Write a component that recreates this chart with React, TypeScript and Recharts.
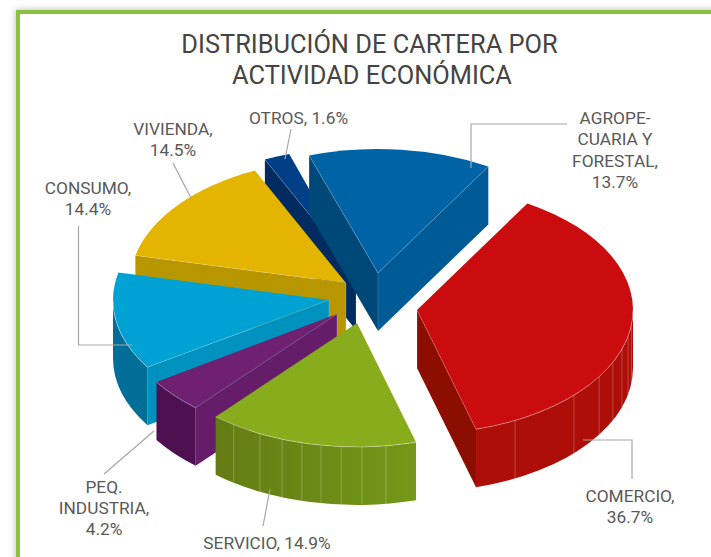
import React from "react";
import { PieChart, Pie } from "recharts";

const categories = ["AGROPECUARIA Y FORESTAL", "COMERCIO", "SERVICIO", "PEQ. INDUSTRIA", "CONSUMO", "VIVIENDA", "OTROS"];
const shares = [13.7, 36.7, 14.9, 4.2, 14.4, 14.5, 1.6];
const labelLines = [
  ["AGROPE-", "CUARIA Y", "FORESTAL,"],
  ["COMERCIO,"],
  ["SERVICIO,"],
  ["PEQ.", "INDUSTRIA,"],
  ["CONSUMO,"],
  ["VIVIENDA,"],
  ["OTROS,"],
];
const titleLines = ["DISTRIBUCIÓN DE CARTERA POR", "ACTIVIDAD ECONÓMICA"];

const data = categories.map((name, i) => ({ name, value: shares[i] }));

// Back-to-front paint order of the exploded slices.
const paintOrder = [6, 0, 5, 4, 3, 2, 1];

const CX = 360;
const CY = 300;
const RX = 216;
const RY = 124;
const DEPTH = 58;

type SliceStyle = {
  pull: [number, number];
  warp: [number, number]; // small perspective correction of the two cut angles
  top: string;
  startWall: string;
  endWall: string;
  outer: string;
  facets?: number[];
  gradient?: [string, string];
};

const sliceStyles: SliceStyle[] = [
  { pull: [18, -27], warp: [-0.6, -0.6], top: "#0063A6", startWall: "#004877", endWall: "#005A96", outer: "#005A96" },
  { pull: [57, 10], warp: [-0.6, 0.7], top: "#CB0C0F", startWall: "#8B0E00", endWall: "#8B0E00", outer: "#AD0E08", facets: [153, 133.4, 122.5, 114.9, 108.4, 102.3, 97] },
  { pull: [-3, 23], warp: [0.7, 3.8], top: "#88AD1C", startWall: "#6A8615", endWall: "#6A8615", outer: "#6A8615", gradient: ["#637C14", "#749818"], facets: [214.8, 206.7, 200.3, 194.8, 189.6, 184.2, 178.7, 172.3] },
  { pull: [-23, 14], warp: [3.8, 4.5], top: "#702070", startWall: "#651D6A", endWall: "#651D6A", outer: "#4F1052" },
  { pull: [-31, 0], warp: [5, -1.2], top: "#00A2D4", startWall: "#0092BE", endWall: "#0092BE", outer: "#006E96" },
  { pull: [-14, -17], warp: [-1.2, -1.2], top: "#E3B500", startWall: "#B89600", endWall: "#B89600", outer: "#B89600" },
  { pull: [-4, -28], warp: [-1.2, 0], top: "#003F86", startWall: "#022B60", endWall: "#022B60", outer: "#022B60" },
];

const labelLayout: { x: number; ys: number[]; inline?: boolean }[] = [
  { x: 615, ys: [124, 145, 167, 188] },
  { x: 630, ys: [502, 523] },
  { x: 267, ys: [549], inline: true },
  { x: 104, ys: [493, 514, 535] },
  { x: 88, ys: [194, 215] },
  { x: 173, ys: [135, 156] },
  { x: 298.5, ys: [124], inline: true },
];

const leaders = [
  "M567 124H471V168",
  "M583 440H632V479",
  "M270 489L263 526",
  "M154 431L104 474",
  "M78.5 226V345H132",
  "M173 163L192 200",
  "M291 129L285 159",
];

const rim = "rgba(255,255,255,0.45)";

function sliceShape(target: number) {
  return (props: any) => {
    if (props.name !== categories[target]) return <g />;
    const st = sliceStyles[target];
    const tx = props.cx + st.pull[0];
    const ty = props.cy + st.pull[1];
    const a0 = 90 - props.startAngle + st.warp[0];
    const a1 = 90 - props.endAngle + st.warp[1];
    const pt = (deg: number): [number, number] => {
      const t = (deg * Math.PI) / 180;
      return [tx + RX * Math.sin(t), ty - RY * Math.cos(t)];
    };
    const [sx, sy] = pt(a0);
    const [ex, ey] = pt(a1);
    const large = a1 - a0 > 180 ? 1 : 0;
    const topPath = `M${tx} ${ty}L${sx} ${sy}A${RX} ${RY} 0 ${large} 1 ${ex} ${ey}Z`;
    const sinS = Math.sin((a0 * Math.PI) / 180);
    const sinE = Math.sin((a1 * Math.PI) / 180);
    const oa = Math.max(a0, 90);
    const ob = Math.min(a1, 270);
    const hasOuter = ob > oa;
    const [ox0, oy0] = pt(oa);
    const [ox1, oy1] = pt(ob);
    const gid = `side-${target}`;
    const wallVisible = sinS < 0 || sinE > 0;
    return (
      <g>
        {st.gradient && (
          <defs>
            <linearGradient id={gid} x1="0" y1="0" x2="1" y2="0">
              <stop offset="0" stopColor={st.gradient[0]} />
              <stop offset="1" stopColor={st.gradient[1]} />
            </linearGradient>
          </defs>
        )}
        {sinS < 0 && (
          <path d={`M${tx} ${ty}L${sx} ${sy}V${sy + DEPTH}L${tx} ${ty + DEPTH}Z`} fill={st.startWall} />
        )}
        {sinE > 0 && (
          <path d={`M${tx} ${ty}L${ex} ${ey}V${ey + DEPTH}L${tx} ${ty + DEPTH}Z`} fill={st.endWall} />
        )}
        {hasOuter && (
          <path
            d={`M${ox0} ${oy0}A${RX} ${RY} 0 0 1 ${ox1} ${oy1}V${oy1 + DEPTH}A${RX} ${RY} 0 0 0 ${ox0} ${oy0 + DEPTH}Z`}
            fill={st.gradient ? `url(#${gid})` : st.outer}
          />
        )}
        {(st.facets || []).map((f) => {
          const [fx, fy] = pt(f);
          return <path key={f} d={`M${fx} ${fy}V${fy + DEPTH}`} stroke="rgba(255,255,255,0.3)" strokeWidth={0.8} fill="none" />;
        })}
        {wallVisible && <path d={`M${tx} ${ty}V${ty + DEPTH}`} stroke="rgba(255,255,255,0.25)" strokeWidth={0.7} fill="none" />}
        <path d={topPath} fill={st.top} />
        {hasOuter && (
          <path d={`M${ox0} ${oy0}A${RX} ${RY} 0 0 1 ${ox1} ${oy1}`} stroke={rim} strokeWidth={0.8} fill="none" />
        )}
        {sinS < 0 && <path d={`M${tx} ${ty}L${sx} ${sy}`} stroke="rgba(255,255,255,0.25)" strokeWidth={0.7} fill="none" />}
        {sinE > 0 && <path d={`M${tx} ${ty}L${ex} ${ey}`} stroke="rgba(255,255,255,0.25)" strokeWidth={0.7} fill="none" />}
      </g>
    );
  };
}

const renderLabel = (props: any) => {
  const i = categories.indexOf(props.name);
  const layout = labelLayout[i];
  const pct = `${shares[i].toFixed(1)}%`;
  const lines = layout.inline
    ? [`${labelLines[i][0]} ${pct}`]
    : [...labelLines[i], pct];
  return (
    <g key={props.name}>
      <path d={leaders[i]} fill="none" stroke="#A6A6A6" strokeWidth={1.2} />
      {lines.map((line, k) => (
        <text
          key={k}
          x={layout.x}
          y={layout.ys[k]}
          textAnchor="middle"
          fontFamily="Roboto, sans-serif"
          fontSize={17.3}
          fill="#595959"
        >
          {line}
        </text>
      ))}
    </g>
  );
};

const pieBase = {
  data,
  dataKey: "value",
  nameKey: "name",
  cx: CX,
  cy: CY,
  innerRadius: 0,
  outerRadius: RX,
  startAngle: 108,
  endAngle: -252,
  paddingAngle: 0,
  stroke: "none",
  isAnimationActive: false,
};

const nothing = () => <g />;

export default function App() {
  return (
    <div style={{ position: "fixed", left: 0, top: 0, width: 711, height: 557, overflow: "hidden", background: "#fff" }}>
      <div
        style={{
          position: "absolute",
          left: 16,
          top: 10,
          width: 900,
          height: 900,
          boxSizing: "border-box",
          border: "4px solid #8BC040",
          boxShadow: "0 0 7px rgba(0,0,0,0.28)",
          background: "#fff",
        }}
      />
      <div style={{ position: "absolute", left: 0, top: 0 }}>
        <PieChart width={711} height={557} margin={{ top: 0, right: 0, bottom: 0, left: 0 }}>
          <text x={369.5} y={53} textAnchor="middle" fontFamily="Roboto, sans-serif" fontSize={25.4} fill="#444444">
            {titleLines[0]}
          </text>
          <text x={372} y={84} textAnchor="middle" fontFamily="Roboto, sans-serif" fontSize={25.4} fill="#444444">
            {titleLines[1]}
          </text>
          {paintOrder.map((idx) => {
            const s = sliceShape(idx);
            return <Pie key={idx} {...pieBase} shape={s} inactiveShape={s} activeShape={s} labelLine={false} label={false} />;
          })}
          <Pie key="labels" {...pieBase} shape={nothing} inactiveShape={nothing} activeShape={nothing} labelLine={false} label={renderLabel} />
        </PieChart>
      </div>
    </div>
  );
}
